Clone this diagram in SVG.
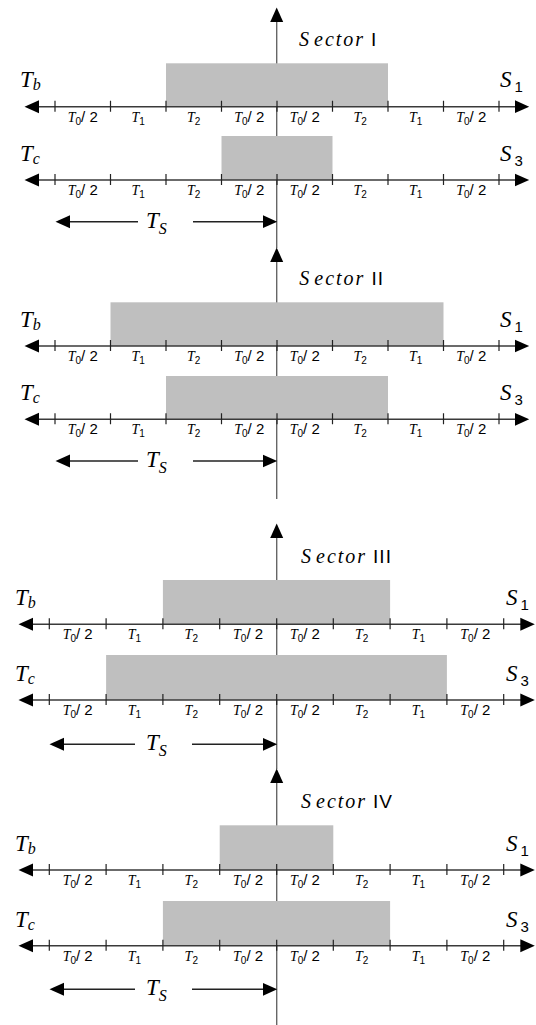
<svg xmlns="http://www.w3.org/2000/svg" width="536" height="1025" viewBox="0 0 536 1025">
<style>
.ax{stroke:#3a3a3a;stroke-width:1.4;fill:none}
.vax{stroke:#666;stroke-width:1.4;fill:none}
.tk{stroke:#222;stroke-width:1.2;fill:none}
.bar{fill:#bfbfbf}
.tl{font-family:"Liberation Sans",Arial,sans-serif;font-size:15px;fill:#000;text-anchor:middle}
.ti{font-family:"Liberation Serif","Times New Roman",serif;font-style:italic;font-size:14px}
.s0{font-family:"Liberation Sans",Arial,sans-serif;font-size:10px}
.big{font-family:"Liberation Serif","Times New Roman",serif;font-style:italic;font-size:23px;fill:#000}
.sec{font-family:"Liberation Serif","Times New Roman",serif;font-style:italic;font-size:20px;fill:#000}
.ect{letter-spacing:2px}
.bsub{font-family:"Liberation Serif","Times New Roman",serif;font-style:italic;font-size:16px}
.nsub{font-family:"Liberation Sans",Arial,sans-serif;font-style:normal;font-size:15px}
.rom{font-family:"Liberation Sans",Arial,sans-serif;font-style:normal;font-size:19px;letter-spacing:1px}
.ts{stroke:#222;stroke-width:1.4;fill:none}
</style>
<defs>
<marker id="ah" markerUnits="userSpaceOnUse" markerWidth="15" markerHeight="14" refX="6" refY="7" orient="auto-start-reverse" viewBox="0 0 15 14">
<path d="M0,0.5 L14.5,7 L0,13.5 z" fill="#000"/>
</marker>
<g id="labelsA">
<text class="tl" x="82.75" y="15"><tspan class="ti">T</tspan><tspan class="s0" dy="3">0</tspan><tspan dy="-3">/ 2</tspan></text>
<text class="tl" x="138.25" y="15"><tspan class="ti">T</tspan><tspan class="s0" dy="3">1</tspan></text>
<text class="tl" x="193.75" y="15"><tspan class="ti">T</tspan><tspan class="s0" dy="3">2</tspan></text>
<text class="tl" x="249.25" y="15"><tspan class="ti">T</tspan><tspan class="s0" dy="3">0</tspan><tspan dy="-3">/ 2</tspan></text>
<text class="tl" x="304.75" y="15"><tspan class="ti">T</tspan><tspan class="s0" dy="3">0</tspan><tspan dy="-3">/ 2</tspan></text>
<text class="tl" x="360.25" y="15"><tspan class="ti">T</tspan><tspan class="s0" dy="3">2</tspan></text>
<text class="tl" x="415.75" y="15"><tspan class="ti">T</tspan><tspan class="s0" dy="3">1</tspan></text>
<text class="tl" x="471.25" y="15"><tspan class="ti">T</tspan><tspan class="s0" dy="3">0</tspan><tspan dy="-3">/ 2</tspan></text>
</g>
<g id="labelsB">
<text class="tl" x="77.7" y="15"><tspan class="ti">T</tspan><tspan class="s0" dy="3">0</tspan><tspan dy="-3">/ 2</tspan></text>
<text class="tl" x="134.5" y="15"><tspan class="ti">T</tspan><tspan class="s0" dy="3">1</tspan></text>
<text class="tl" x="191.3" y="15"><tspan class="ti">T</tspan><tspan class="s0" dy="3">2</tspan></text>
<text class="tl" x="248.1" y="15"><tspan class="ti">T</tspan><tspan class="s0" dy="3">0</tspan><tspan dy="-3">/ 2</tspan></text>
<text class="tl" x="304.9" y="15"><tspan class="ti">T</tspan><tspan class="s0" dy="3">0</tspan><tspan dy="-3">/ 2</tspan></text>
<text class="tl" x="361.7" y="15"><tspan class="ti">T</tspan><tspan class="s0" dy="3">2</tspan></text>
<text class="tl" x="418.5" y="15"><tspan class="ti">T</tspan><tspan class="s0" dy="3">1</tspan></text>
<text class="tl" x="475.3" y="15"><tspan class="ti">T</tspan><tspan class="s0" dy="3">0</tspan><tspan dy="-3">/ 2</tspan></text>
</g>
<g id="axisA">
<line class="ax" x1="33" y1="0" x2="520.7" y2="0" marker-start="url(#ah)" marker-end="url(#ah)"/>
<path class="tk" d="M55,-6v11M110.5,-6v11M166,-6v11M221.5,-6v11M277,-6v11M332.5,-6v11M388,-6v11M443.5,-6v11M499,-6v11"/>
</g>
<g id="axisB">
<line class="ax" x1="27" y1="0" x2="526.3" y2="0" marker-start="url(#ah)" marker-end="url(#ah)"/>
<path class="tk" d="M49.3,-6v11M106.1,-6v11M162.9,-6v11M219.7,-6v11M276.7,-6v11M333.3,-6v11M390.1,-6v11M446.9,-6v11M503.7,-6v11"/>
</g>
</defs>

<g id="vertical-axes">
<line class="vax" x1="276.7" y1="248" x2="276.7" y2="16" marker-end="url(#ah)"/>
<line class="vax" x1="276.7" y1="499" x2="276.7" y2="256" marker-end="url(#ah)"/>
<line class="vax" x1="276.7" y1="769" x2="276.7" y2="532" marker-end="url(#ah)"/>
<line class="vax" x1="276.7" y1="1025" x2="276.7" y2="777" marker-end="url(#ah)"/>
</g>

<!-- Sector I -->
<g id="sector1">
<rect class="bar" x="166" y="63.3" width="222" height="43.4"/>
<rect class="bar" x="221.5" y="136" width="111" height="44"/>
<text class="sec" x="299" y="45.7">S<tspan class="ect" dx="5">ector</tspan><tspan class="rom" dx="6">I</tspan></text>
<g id="s1-row1" transform="translate(0,106.7)">
<use href="#axisA"/><use href="#labelsA"/>
<text class="big" x="20" y="-19.4">T<tspan class="bsub" dy="3">b</tspan></text>
<text class="big" x="500" y="-19.4">S<tspan class="nsub" dx="3" dy="5">1</tspan></text>
</g>
<g id="s1-row2" transform="translate(0,180)">
<use href="#axisA"/><use href="#labelsA"/>
<text class="big" x="20" y="-19.4">T<tspan class="bsub" dy="3">c</tspan></text>
<text class="big" x="500" y="-19.4">S<tspan class="nsub" dx="3" dy="5">3</tspan></text>
</g>
<g id="s1-ts" transform="translate(0,221.7)">
<line class="ts" x1="138" y1="0" x2="64" y2="0" marker-end="url(#ah)"/>
<line class="ts" x1="193" y1="0" x2="268.7" y2="0" marker-end="url(#ah)"/>
<text class="big" x="146" y="6">T<tspan class="bsub" dy="6">S</tspan></text>
</g>
</g>

<!-- Sector II -->
<g id="sector2">
<rect class="bar" x="110.5" y="302.3" width="333" height="43.7"/>
<rect class="bar" x="166" y="376" width="222" height="43.3"/>
<text class="sec" x="299.3" y="285">S<tspan class="ect" dx="5">ector</tspan><tspan class="rom" dx="6">II</tspan></text>
<g id="s2-row1" transform="translate(0,346)">
<use href="#axisA"/><use href="#labelsA"/>
<text class="big" x="20" y="-19.4">T<tspan class="bsub" dy="3">b</tspan></text>
<text class="big" x="500" y="-19.4">S<tspan class="nsub" dx="3" dy="5">1</tspan></text>
</g>
<g id="s2-row2" transform="translate(0,419.3)">
<use href="#axisA"/><use href="#labelsA"/>
<text class="big" x="20" y="-19.4">T<tspan class="bsub" dy="3">c</tspan></text>
<text class="big" x="500" y="-19.4">S<tspan class="nsub" dx="3" dy="5">3</tspan></text>
</g>
<g id="s2-ts" transform="translate(0,461)">
<line class="ts" x1="138" y1="0" x2="64" y2="0" marker-end="url(#ah)"/>
<line class="ts" x1="193" y1="0" x2="268.7" y2="0" marker-end="url(#ah)"/>
<text class="big" x="146" y="6">T<tspan class="bsub" dy="6">S</tspan></text>
</g>
</g>

<!-- Sector III -->
<g id="sector3">
<rect class="bar" x="162.9" y="580" width="227.2" height="44.3"/>
<rect class="bar" x="106.1" y="655" width="340.8" height="45"/>
<text class="sec" x="301" y="562.7">S<tspan class="ect" dx="5">ector</tspan><tspan class="rom" dx="6">III</tspan></text>
<g id="s3-row1" transform="translate(0,624.3)">
<use href="#axisB"/><use href="#labelsB"/>
<text class="big" x="15" y="-19">T<tspan class="bsub" dy="3">b</tspan></text>
<text class="big" x="506" y="-19">S<tspan class="nsub" dx="3" dy="5">1</tspan></text>
</g>
<g id="s3-row2" transform="translate(0,700)">
<use href="#axisB"/><use href="#labelsB"/>
<text class="big" x="15" y="-19">T<tspan class="bsub" dy="3">c</tspan></text>
<text class="big" x="506" y="-19">S<tspan class="nsub" dx="3" dy="5">3</tspan></text>
</g>
<g id="s3-ts" transform="translate(0,744.3)">
<line class="ts" x1="135" y1="0" x2="58" y2="0" marker-end="url(#ah)"/>
<line class="ts" x1="192" y1="0" x2="268.7" y2="0" marker-end="url(#ah)"/>
<text class="big" x="146" y="6">T<tspan class="bsub" dy="6">S</tspan></text>
</g>
</g>

<!-- Sector IV -->
<g id="sector4">
<rect class="bar" x="219.7" y="825.3" width="113.6" height="44.7"/>
<rect class="bar" x="162.9" y="901" width="227.2" height="44.7"/>
<text class="sec" x="301" y="808.3">S<tspan class="ect" dx="5">ector</tspan><tspan class="rom" dx="6">IV</tspan></text>
<g id="s4-row1" transform="translate(0,870)">
<use href="#axisB"/><use href="#labelsB"/>
<text class="big" x="15" y="-19">T<tspan class="bsub" dy="3">b</tspan></text>
<text class="big" x="506" y="-19">S<tspan class="nsub" dx="3" dy="5">1</tspan></text>
</g>
<g id="s4-row2" transform="translate(0,945.7)">
<use href="#axisB"/><use href="#labelsB"/>
<text class="big" x="15" y="-19">T<tspan class="bsub" dy="3">c</tspan></text>
<text class="big" x="506" y="-19">S<tspan class="nsub" dx="3" dy="5">3</tspan></text>
</g>
<g id="s4-ts" transform="translate(0,989.3)">
<line class="ts" x1="135" y1="0" x2="58" y2="0" marker-end="url(#ah)"/>
<line class="ts" x1="192" y1="0" x2="268.7" y2="0" marker-end="url(#ah)"/>
<text class="big" x="146" y="6">T<tspan class="bsub" dy="6">S</tspan></text>
</g>
</g>
</svg>
